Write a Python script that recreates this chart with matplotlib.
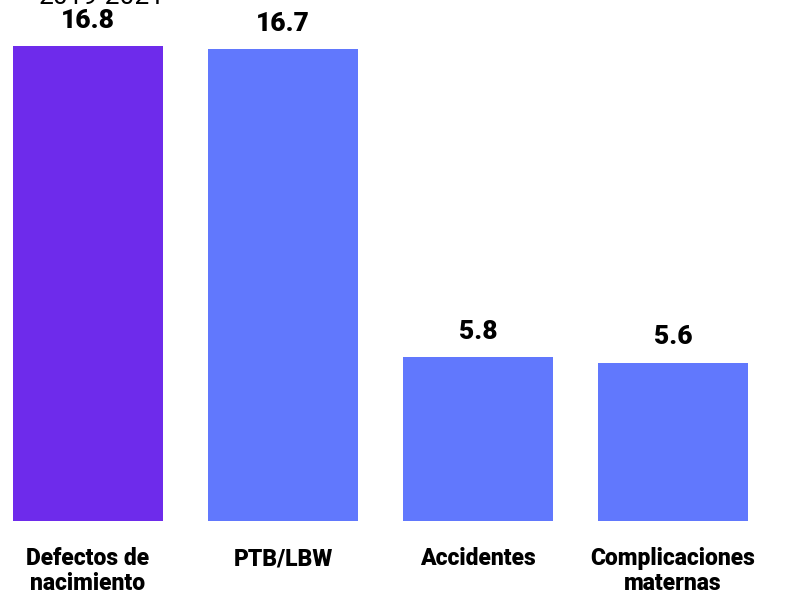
import matplotlib.pyplot as plt

categories = ["Defectos de\nnacimiento", "PTB/LBW", "Accidentes", "Complicaciones\nmaternas"]
values = [16.8, 16.7, 5.8, 5.6]
value_labels = ["16.8", "16.7", "5.8", "5.6"]
subtitle = "2019-2021"

colors = ["#6E2BEB", "#6178FD", "#6178FD", "#6178FD"]

plt.rcParams['font.family'] = ['Roboto', 'DejaVu Sans']

fig = plt.figure(figsize=(7.86, 5.99), dpi=100)
ax = fig.add_axes([13 / 786, 78 / 599, 735 / 786, 475 / 599])

x = list(range(len(categories)))
ax.bar(x, values, width=0.77, color=colors)
ax.set_xlim(-0.385, 3.385)
ax.set_ylim(0, 16.8)

for xi, v, lab in zip(x, values, value_labels):
    ax.annotate(lab, (xi, v), xytext=(0, 9.5), textcoords="offset points",
                ha="center", va="bottom", fontsize=19, fontweight="heavy")

ax.set_xticks(x)
ax.set_xticklabels(categories, fontsize=16.5, fontweight="heavy", linespacing=1.1)
ax.tick_params(axis="x", length=0, pad=19)
ax.set_yticks([])
for s in ax.spines.values():
    s.set_visible(False)

fig.text(102 / 786, 1 - 4 / 599, subtitle, ha="center", va="baseline", fontsize=19)

fig.savefig("out.png", dpi=100)
